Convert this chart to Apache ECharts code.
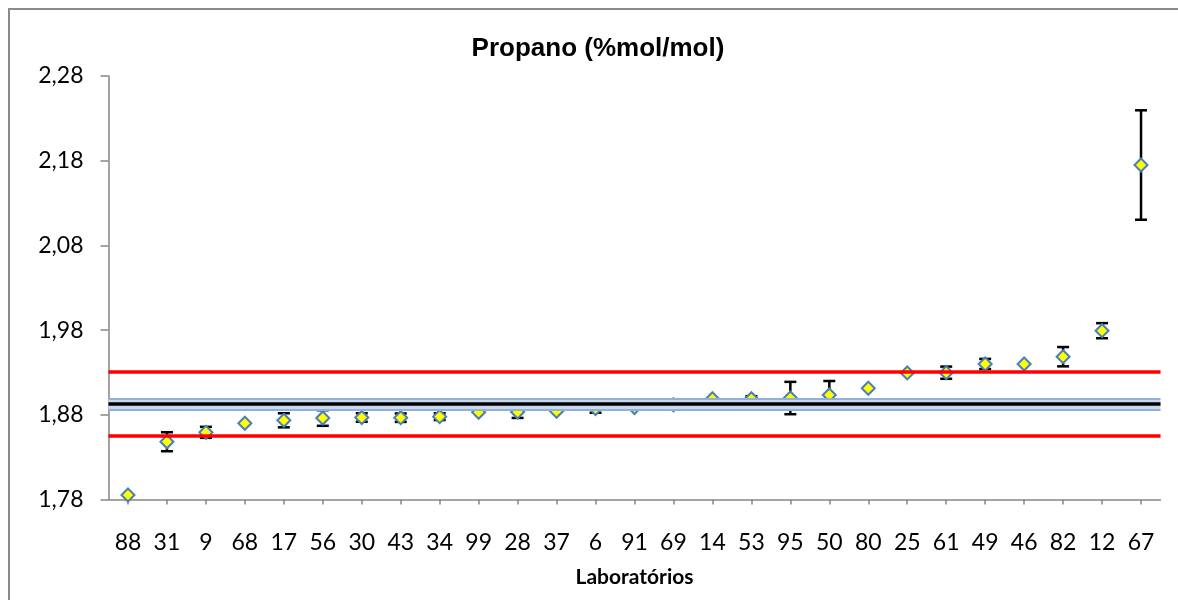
<!DOCTYPE html>
<html>
<head>
<meta charset="utf-8">
<title>Propano (%mol/mol)</title>
<script src="https://cdn.jsdelivr.net/npm/echarts@6/dist/echarts.min.js"></script>
<style>
  html, body { margin: 0; padding: 0; background: #ffffff; }
  #chart { width: 1178px; height: 600px; }
</style>
</head>
<body>
<div id="chart"></div>
<script>
// Laboratory codes, in the order plotted
const labs = ['88','31','9','68','17','56','30','43','34','99','28','37','6','91','69',
              '14','53','95','50','80','25','61','49','46','82','12','67'];
// Reported results (%mol/mol)
const results = [1.7853, 1.8482, 1.8593, 1.8700, 1.8735, 1.8762, 1.8768, 1.8766, 1.8778,
                 1.8830, 1.8833, 1.8841, 1.8874, 1.8886, 1.8919, 1.8990, 1.8990, 1.8998,
                 1.9034, 1.9113, 1.9294, 1.9297, 1.9400, 1.9400, 1.9486, 1.9793, 2.1749];
// Reported expanded uncertainties (0 = none drawn)
const uncertainties = [0, 0.0112, 0.0065, 0, 0.0083, 0.0092, 0.005, 0.005, 0.004,
                       0, 0.007, 0, 0.005, 0, 0, 0, 0.003, 0.0191,
                       0.0165, 0, 0, 0.0072, 0.006, 0, 0.0114, 0.0089, 0.0646];
// Assigned value, its uncertainty band and the acceptance limits
const assignedValue = 1.8928;
const assignedUncertainty = 0.0066;
const lowerLimit = 1.8558;
const upperLimit = 1.9307;
// Value axis ticks
const yTicks = [1.78, 1.88, 1.98, 2.08, 2.18, 2.28];

const chart = echarts.init(document.getElementById('chart'), null, { renderer: 'canvas' });

const errorData = [];
results.forEach((v, i) => {
  if (uncertainties[i] > 0) errorData.push([i, v - uncertainties[i], v + uncertainties[i]]);
});

const axisGray = '#868686';
const labelFont = 'Lato';

chart.setOption({
  animation: false,
  backgroundColor: '#ffffff',
  graphic: [
    {
      type: 'rect', silent: true, z: 0,
      shape: { x: 9, y: 9, width: 1200, height: 700 },
      style: { fill: 'none', stroke: '#8a8a8a', lineWidth: 2 }
    },
    {
      type: 'text', silent: true, z: 10,
      x: 598, y: 49,
      style: {
        text: 'Propano (%mol/mol)',
        font: 'bold 26px "Liberation Sans", Arial, sans-serif',
        fill: '#000000',
        textAlign: 'center',
        textVerticalAlign: 'middle'
      }
    }
  ],
  grid: { left: 108.5, right: 17.5, top: 76, bottom: 100.5 },
  xAxis: {
    type: 'category',
    data: labs,
    boundaryGap: true,
    name: 'Laboratórios',
    nameLocation: 'middle',
    nameGap: 67,
    nameTextStyle: { fontFamily: labelFont, fontWeight: 'bold', fontSize: 21, color: '#000' },
    axisLine: { show: true, onZero: false, lineStyle: { color: axisGray, width: 1.5 } },
    axisTick: { show: true, alignWithLabel: true, length: 5, lineStyle: { color: axisGray, width: 1.5 } },
    axisLabel: { interval: 0, margin: 32, fontFamily: labelFont, fontSize: 23, color: '#000' },
    splitLine: { show: false }
  },
  yAxis: {
    type: 'value',
    min: yTicks[0],
    max: yTicks[yTicks.length - 1],
    interval: 0.1,
    axisLine: { show: true, lineStyle: { color: axisGray, width: 1.5 } },
    axisTick: { show: true, length: 8, lineStyle: { color: axisGray, width: 1.5 } },
    axisLabel: {
      margin: 25, fontFamily: labelFont, fontSize: 23, color: '#000',
      formatter: v => v.toFixed(2).replace('.', ',')
    },
    splitLine: { show: false }
  },
  series: [
    {
      // uncertainty bars of each laboratory
      type: 'custom',
      z: 2,
      silent: true,
      data: errorData,
      encode: { x: 0, y: [1, 2] },
      renderItem: function (params, api) {
        const idx = api.value(0);
        const pLo = api.coord([idx, api.value(1)]);
        const pHi = api.coord([idx, api.value(2)]);
        const x = pLo[0];
        const cap = 6;
        const st = { stroke: '#000000', lineWidth: 2.5 };
        return {
          type: 'group',
          children: [
            { type: 'line', shape: { x1: x, y1: pLo[1], x2: x, y2: pHi[1] }, style: st },
            { type: 'line', shape: { x1: x - cap, y1: pLo[1], x2: x + cap, y2: pLo[1] }, style: st },
            { type: 'line', shape: { x1: x - cap, y1: pHi[1], x2: x + cap, y2: pHi[1] }, style: st }
          ]
        };
      }
    },
    {
      // laboratory results
      type: 'scatter',
      z: 3,
      silent: true,
      data: results,
      symbol: 'diamond',
      symbolSize: 13,
      itemStyle: { color: '#ffff00', borderColor: '#4a7ebb', borderWidth: 2, opacity: 1 }
    },
    {
      // assigned value, its uncertainty band and the limits
      type: 'line',
      z: 4,
      silent: true,
      data: [],
      markLine: {
        silent: true,
        symbol: 'none',
        precision: 6,
        animation: false,
        label: { show: false },
        emphasis: { disabled: true },
        data: [
          { yAxis: assignedValue, lineStyle: { color: '#c9d9ef', width: 11, type: 'solid' } },
          { yAxis: assignedValue + assignedUncertainty, lineStyle: { color: '#92afd8', width: 2, type: 'solid' } },
          { yAxis: assignedValue - assignedUncertainty, lineStyle: { color: '#92afd8', width: 2, type: 'solid' } },
          { yAxis: assignedValue, lineStyle: { color: '#000000', width: 3.7, type: 'solid' } },
          { yAxis: upperLimit, lineStyle: { color: '#ff0000', width: 3.5, type: 'solid' } },
          { yAxis: lowerLimit, lineStyle: { color: '#ff0000', width: 3.5, type: 'solid' } }
        ]
      }
    }
  ]
});
</script>
</body>
</html>
